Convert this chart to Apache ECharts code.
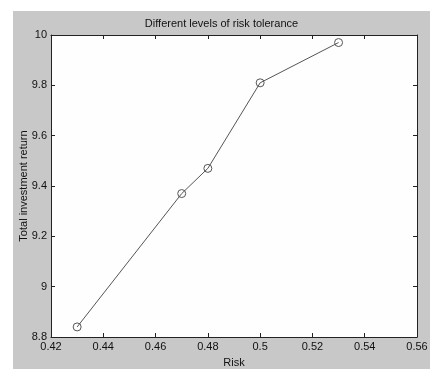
<!DOCTYPE html>
<html>
<head>
<meta charset="utf-8">
<script src="https://cdn.jsdelivr.net/npm/echarts@6/dist/echarts.min.js"></script>
<style>
  html, body { margin: 0; padding: 0; background: #ffffff; }
  #riskChart {
    position: absolute;
    left: 13px;
    top: 11px;
    width: 417px;
    height: 358px;
    background: #c8c8c8;
  }
</style>
</head>
<body>
<div id="riskChart"></div>
<script>
// data
var riskValues = [0.43, 0.47, 0.48, 0.50, 0.53];
var returnValues = [8.84, 9.37, 9.47, 9.81, 9.97];

var textFont = 'Liberation Sans';
var axisColor = '#222222';

var points = riskValues.map(function (r, i) {
  return [r, returnValues[i]];
});

function trimNum(v) {
  return String(parseFloat(v.toFixed(4)));
}

var boxAxis = {
  axisLine: { show: true, lineStyle: { color: axisColor, width: 1 } },
  axisTick: { show: true, inside: true, length: 4, lineStyle: { color: axisColor } },
  splitLine: { show: false }
};

var riskChart = echarts.init(document.getElementById('riskChart'), null, { renderer: 'canvas' });

var options = {
  animation: false,
  backgroundColor: '#c8c8c8',
  textStyle: { fontFamily: textFont },
  title: {
    text: 'Different levels of risk tolerance',
    left: 'center',
    top: 2,
    textStyle: { fontSize: 11, fontWeight: 'normal', color: '#111', fontFamily: textFont }
  },
  grid: {
    left: 38,
    right: 13,
    top: 24,
    bottom: 32,
    outerBoundsMode: 'none',
    show: true,
    backgroundColor: '#fefefe',
    borderWidth: 0
  },
  xAxis: [
    Object.assign({
      type: 'value',
      position: 'bottom',
      min: 0.42,
      max: 0.56,
      interval: 0.02,
      name: 'Risk',
      nameLocation: 'middle',
      nameGap: 20,
      nameMoveOverlap: false,
      nameTextStyle: { fontSize: 11, color: '#111', fontFamily: textFont },
      axisLabel: {
        fontSize: 11, color: '#111', margin: 4, fontFamily: textFont,
        formatter: trimNum
      }
    }, boxAxis),
    Object.assign({
      type: 'value',
      position: 'top',
      min: 0.42,
      max: 0.56,
      interval: 0.02,
      axisLabel: { show: false }
    }, boxAxis)
  ],
  yAxis: [
    Object.assign({
      type: 'value',
      position: 'left',
      min: 8.8,
      max: 10,
      interval: 0.2,
      name: 'Total investment return',
      nameLocation: 'middle',
      nameGap: 22,
      nameMoveOverlap: false,
      nameTextStyle: { fontSize: 11, color: '#111', fontFamily: textFont },
      axisLabel: {
        fontSize: 11, color: '#111', margin: 4, fontFamily: textFont,
        formatter: trimNum
      }
    }, boxAxis),
    Object.assign({
      type: 'value',
      position: 'right',
      min: 8.8,
      max: 10,
      interval: 0.2,
      axisLabel: { show: false }
    }, boxAxis)
  ],
  series: [
    {
      name: 'Total investment return',
      type: 'line',
      data: points,
      symbol: 'circle',
      symbolSize: 8,
      lineStyle: { color: '#555555', width: 1 },
      itemStyle: { color: 'rgba(0,0,0,0)', borderColor: '#555555', borderWidth: 1 }
    }
  ]
};

riskChart.setOption(options);
</script>
</body>
</html>
